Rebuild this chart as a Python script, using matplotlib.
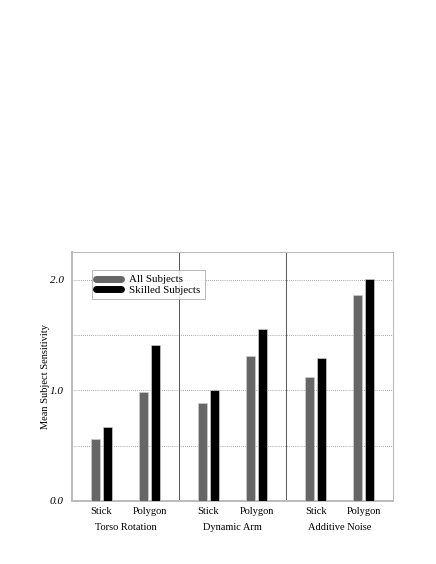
import matplotlib
matplotlib.use("Agg")
import matplotlib.pyplot as plt
import numpy as np
from matplotlib.lines import Line2D

groups = ["Torso Rotation", "Dynamic Arm", "Additive Noise"]
conditions = ["Stick", "Polygon"]
all_subjects = [0.56, 0.99, 0.89, 1.31, 1.12, 1.86]
skilled_subjects = [0.67, 1.41, 1.00, 1.56, 1.29, 2.01]
series_names = ["All Subjects", "Skilled Subjects"]
yticks = [0.0, 1.0, 2.0]
ytick_labels = ["0.0", "1.0", "2.0"]

plt.rcParams['font.family'] = ['Liberation Serif', 'DejaVu Serif']

fig = plt.figure(figsize=(4.36, 5.64), dpi=100)
W, H = 436, 564
ax = fig.add_axes([72.0 / W, 1 - 501 / H, (393.3 - 72.0) / W, (501 - 252) / H])

gray = "#666666"
centers = []
for g in range(len(groups)):
    centers += [g * 2 + 0.55, g * 2 + 1.45]
centers = np.array(centers)
bw = 0.17
off = 0.112
ax.bar(centers - off, all_subjects, width=bw, color=gray, edgecolor="#cccccc", linewidth=0.5, zorder=3)
ax.bar(centers + off, skilled_subjects, width=bw, color="black", edgecolor="#cccccc", linewidth=0.5, zorder=3)

ax.set_xlim(0, 6)
ax.set_ylim(0, 2.253)
for y in [0.5, 1.0, 1.5, 2.0]:
    ax.axhline(y, color="#888888", linestyle=(0, (1, 1.5)), linewidth=0.6, zorder=1)
for x in [2, 4]:
    ax.axvline(x, color="#555555", linewidth=0.7, zorder=2)

ax.set_yticks(yticks)
ax.set_yticklabels(ytick_labels, fontstyle="italic", fontsize=8)
ax.tick_params(axis="y", length=0, pad=6)
ax.set_xticks(centers)
ax.set_xticklabels(conditions * len(groups), fontsize=7.5)
ax.tick_params(axis="x", length=0, pad=4)
for i, g in enumerate(groups):
    ax.annotate(g, xy=(i * 2 + 1, 0), xycoords="data", xytext=(0, -15.5),
                textcoords="offset points", ha="center", va="top", fontsize=7.5)
for name, s in ax.spines.items():
    s.set_color("#bbbbbb")
    s.set_linewidth(1.4 if name in ("left", "bottom") else 0.8)

ax.set_ylabel("Mean Subject Sensitivity", fontsize=7.5, labelpad=0)

handles = [Line2D([0], [0], color=gray, lw=5, solid_capstyle="round"),
           Line2D([0], [0], color="black", lw=5, solid_capstyle="round")]
leg = ax.legend(handles, series_names, loc="upper left", bbox_to_anchor=(0.062, 0.926),
                fontsize=7.8, frameon=True, fancybox=False, handlelength=2.3,
                borderpad=0.4, labelspacing=0.1, handletextpad=0.75, borderaxespad=0)
leg.get_frame().set_edgecolor("#999999")
leg.get_frame().set_linewidth(0.6)

fig.savefig("out.png", dpi=100)
